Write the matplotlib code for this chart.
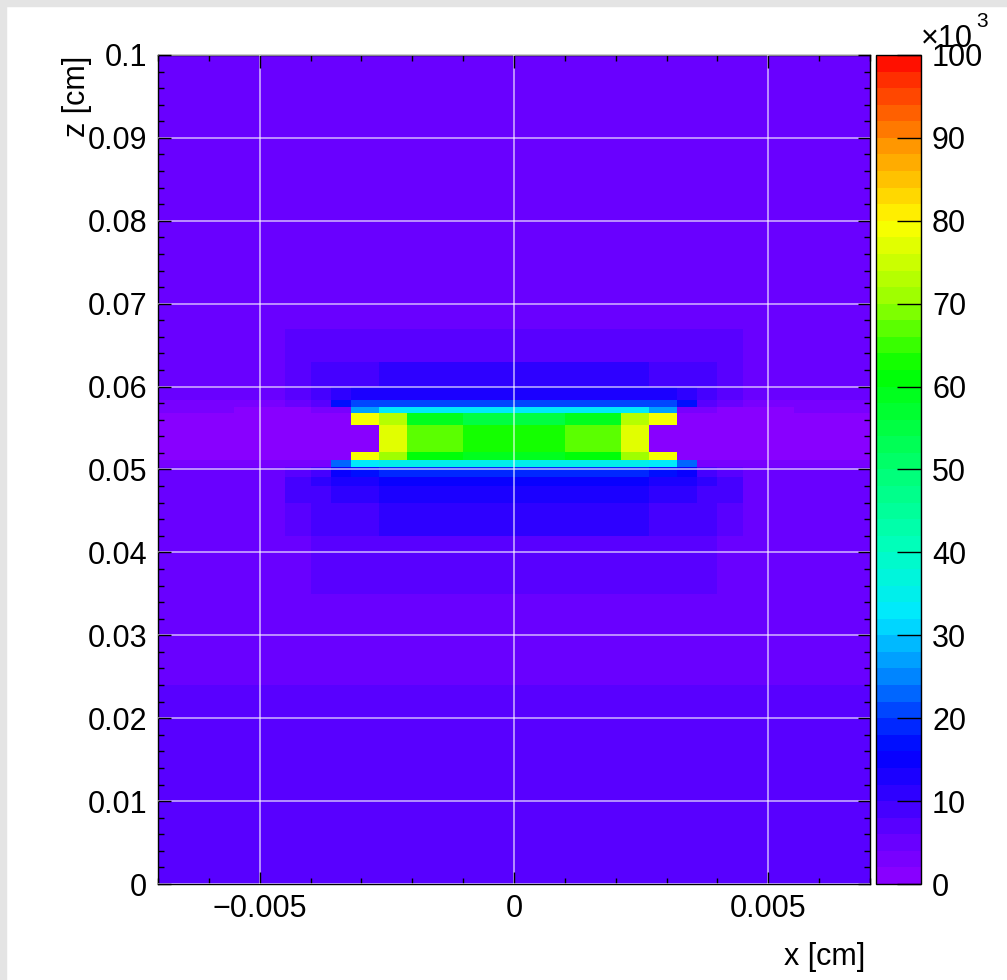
import numpy as np
import matplotlib
matplotlib.use("Agg")
import matplotlib.pyplot as plt
from matplotlib.colors import LinearSegmentedColormap, BoundaryNorm
from matplotlib.patches import Rectangle

plt.rcParams['font.family'] = ['Liberation Sans', 'DejaVu Sans']

# bin edges of the field map (cm)
x_edges = [-0.0070, -0.0055, -0.0045, -0.0040, -0.0036, -0.0032, -0.00265, -0.0021, -0.0010, 0.0,
           0.0010, 0.0021, 0.00265, 0.0032, 0.0036, 0.0040, 0.0045, 0.0055, 0.0070]
z_edges = [0.0, 0.0240, 0.0350, 0.0420, 0.0460, 0.0480, 0.0491, 0.0503, 0.0511, 0.0521,
           0.0537, 0.0554, 0.0568, 0.0575, 0.0584, 0.0600, 0.0630, 0.0670, 0.0700, 0.1000]

# cell values in units of 10^3, rows listed from top (z=0.1) to bottom (z=0)
field_rows = [
    [4.5, 4.5, 4.5, 4.5, 4.5, 4.5, 4.5, 4.5, 4.5, 4.5, 4.5, 4.5, 4.5, 4.5, 4.5, 4.5, 4.5, 4.5],
    [4.5, 4.5, 5.0, 5.5, 5.5, 5.5, 5.5, 5.5, 5.5, 5.5, 5.5, 5.5, 5.5, 5.5, 5.5, 5.0, 4.5, 4.5],
    [4.5, 4.8, 6.0, 6.5, 7.0, 7.0, 7.0, 7.0, 7.0, 7.0, 7.0, 7.0, 7.0, 7.0, 6.5, 6.0, 4.8, 4.5],
    [4.5, 5.0, 7.0, 8.0, 9.0, 9.5, 10, 10, 10, 10, 10, 10, 9.5, 9.0, 8.0, 7.0, 5.0, 4.5],
    [4.0, 4.5, 6.0, 8.0, 11, 12, 13, 13, 13, 13, 13, 13, 12, 11, 8.0, 6.0, 4.5, 4.0],
    [3.0, 3.0, 4.0, 6.0, 17, 20, 20, 20, 20, 20, 20, 20, 20, 17, 6.0, 4.0, 3.0, 3.0],
    [2.0, 1.5, 1.5, 2.0, 3.0, 27, 32, 32, 32, 32, 32, 32, 27, 3.0, 2.0, 1.5, 1.5, 2.0],
    [1.5, 1.0, 0.8, 0.5, 0.3, 79, 72, 58, 55, 55, 58, 72, 79, 0.3, 0.5, 0.8, 1.0, 1.5],
    [1.5, 1.0, 0.8, 0.5, 0.3, 0.5, 76, 66, 63, 63, 66, 76, 0.5, 0.3, 0.5, 0.8, 1.0, 1.5],
    [1.5, 1.0, 0.8, 0.5, 0.3, 0.5, 77, 67, 63, 63, 67, 77, 0.5, 0.3, 0.5, 0.8, 1.0, 1.5],
    [1.5, 1.0, 0.8, 0.5, 0.3, 79, 70, 60, 58, 58, 60, 70, 79, 0.3, 0.5, 0.8, 1.0, 1.5],
    [2.5, 2.0, 2.0, 3.0, 22, 33, 34, 34, 34, 34, 34, 34, 33, 22, 3.0, 2.0, 2.0, 2.5],
    [4.0, 4.5, 6.0, 9.0, 14, 17, 18, 18, 18, 18, 18, 18, 17, 14, 9.0, 6.0, 4.5, 4.0],
    [4.5, 5.0, 8.0, 10, 12, 13, 14, 14, 14, 14, 14, 14, 13, 12, 10, 8.0, 5.0, 4.5],
    [4.5, 5.5, 8.0, 9.5, 10.5, 11, 12, 12, 12, 12, 12, 12, 11, 10.5, 9.5, 8.0, 5.5, 4.5],
    [4.5, 5.0, 7.0, 8.0, 9.0, 9.5, 10, 10, 10, 10, 10, 10, 9.5, 9.0, 8.0, 7.0, 5.0, 4.5],
    [4.5, 4.8, 5.5, 6.0, 6.5, 7.0, 7.0, 7.0, 7.0, 7.0, 7.0, 7.0, 7.0, 6.5, 6.0, 5.5, 4.8, 4.5],
    [4.5, 4.5, 4.5, 4.5, 4.5, 4.5, 4.5, 4.5, 4.5, 4.5, 4.5, 4.5, 4.5, 4.5, 4.5, 4.5, 4.5, 4.5],
    [7.5, 7.5, 7.5, 7.5, 7.5, 7.5, 7.5, 7.5, 7.5, 7.5, 7.5, 7.5, 7.5, 7.5, 7.5, 7.5, 7.5, 7.5],
]

x_ticks = [-0.005, 0.0, 0.005]
x_ticklabels = ['\u22120.005', '0', '0.005']
z_ticks = [0.0, 0.01, 0.02, 0.03, 0.04, 0.05, 0.06, 0.07, 0.08, 0.09, 0.1]
z_ticklabels = ['0', '0.01', '0.02', '0.03', '0.04', '0.05', '0.06', '0.07', '0.08', '0.09', '0.1']
cbar_ticks = [0, 10, 20, 30, 40, 50, 60, 70, 80, 90, 100]

# rainbow palette like ROOT's
rainbow = LinearSegmentedColormap.from_list('rootrainbow', [
    (0.00, '#8800ff'), (0.05, '#6000ff'), (0.10, '#3000ff'), (0.15, '#0000ff'),
    (0.20, '#0040ff'), (0.25, '#0090ff'), (0.32, '#00e8ff'), (0.40, '#00ffc0'),
    (0.50, '#00ff70'), (0.62, '#00ff00'), (0.70, '#90ff00'), (0.80, '#ffff00'),
    (0.90, '#ff9000'), (1.00, '#ff1000')])
norm = BoundaryNorm(np.linspace(0, 100, 51), rainbow.N)

field = np.flipud(np.array(field_rows))

W, H = 1007, 980
fig = plt.figure(figsize=(W / 100, H / 100), dpi=100)
fig.patch.set_facecolor('white')
fig.patches.append(Rectangle((0, 0), 6 / W, 1, transform=fig.transFigure, color='#e4e4e4', zorder=0))
fig.patches.append(Rectangle((0, 1 - 6 / H), 1, 6 / H, transform=fig.transFigure, color='#e4e4e4', zorder=0))

ax = fig.add_axes([158 / W, 96 / H, 712 / W, 829 / H])
cax = fig.add_axes([876 / W, 96 / H, 45 / W, 829 / H])

mesh = ax.pcolormesh(x_edges, z_edges, field, cmap=rainbow, norm=norm)
ax.set_xlim(-0.007, 0.007)
ax.set_ylim(0, 0.1)

ax.set_xticks(x_ticks)
ax.set_xticklabels(x_ticklabels)
ax.set_xticks(np.arange(-0.007, 0.00701, 0.001), minor=True)
ax.set_yticks(z_ticks)
ax.set_yticklabels(z_ticklabels)
ax.set_yticks(np.arange(0, 0.1001, 0.002), minor=True)
ax.tick_params(which='both', direction='in', top=True, right=True, labelsize=22, width=1)
ax.tick_params(which='major', length=9)
ax.tick_params(which='minor', length=4.5)
ax.tick_params(axis='x', pad=7)
ax.tick_params(axis='y', pad=8)
ax.set_axisbelow(False)
ax.grid(True, which='major', color='white', alpha=0.6, lw=1.3)
for s in ax.spines.values():
    s.set_linewidth(1)

cb = fig.colorbar(mesh, cax=cax, ticks=cbar_ticks)
cb.ax.set_yticklabels([str(t) for t in cbar_ticks])
cb.outline.set_linewidth(1)
cax.tick_params(direction='in', length=17, width=1, labelsize=22, pad=8)
cax.minorticks_off()

fig.text(865 / W, 1 - 957 / H, 'x [cm]', ha='right', va='center', fontsize=22)
fig.text(77 / W, 1 - 56 / H, 'z [cm]', rotation=90, ha='center', va='top', fontsize=22)
fig.text(921 / W, 1 - 47 / H, '\u00d710', ha='left', va='baseline', fontsize=22)
fig.text(976 / W, 1 - 12 / H, '3', ha='left', va='top', fontsize=15)

fig.savefig('out.png', dpi=100)
